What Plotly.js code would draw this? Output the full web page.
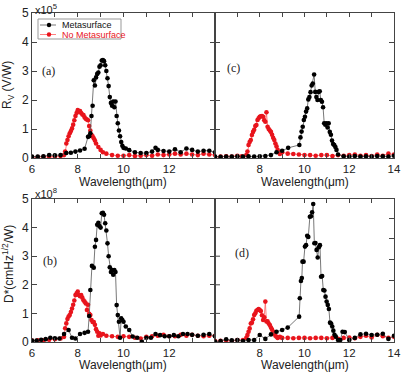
<!DOCTYPE html>
<html><head><meta charset="utf-8">
<script src="https://cdn.plot.ly/plotly-3.0.1.min.js"></script>
<style>html,body{margin:0;padding:0;background:#fff}#plot{width:401px;height:372px}</style>
</head><body><div id="plot"></div>
<script>
// ---- Data ----
// Panel (a): responsivity Rv (x10^5 V/W)
const wlA_meta = [6.0,6.25,6.5,6.75,7.0,7.25,7.5,7.7,7.9,8.1,8.3,8.45,8.5,8.55,8.6,8.65,8.7,8.75,8.8,8.85,8.9,8.95,9.0,9.05,9.1,9.15,9.2,9.25,9.3,9.35,9.4,9.45,9.5,9.55,9.6,9.65,9.7,9.75,9.8,9.85,9.9,9.95,10.0,10.1,10.25,10.5,10.75,11.0,11.25,11.4,11.5,11.75,12.0,12.25,12.5,12.75,13.0,13.25,13.5,13.75,14.0];
const rvA_meta = [0.05,0.05,0.06,0.1,0.09,0.1,0.17,0.18,0.22,0.26,0.32,0.73,0.75,0.85,1.45,1.8,2.68,2.5,2.78,2.9,2.95,3.15,3.2,3.36,3.38,3.34,3.2,3.0,2.75,2.48,2.1,1.9,1.8,1.95,1.75,1.95,1.45,1.2,0.95,0.75,0.55,0.42,0.35,0.33,0.27,0.2,0.17,0.17,0.22,0.35,0.28,0.24,0.22,0.3,0.2,0.33,0.28,0.22,0.25,0.25,0.2];
const wlA_no = [6.0,6.25,6.5,6.75,7.0,7.25,7.4,7.45,7.5,7.55,7.6,7.65,7.7,7.75,7.8,7.85,7.9,7.95,8.0,8.05,8.1,8.15,8.2,8.25,8.3,8.35,8.4,8.45,8.5,8.55,8.6,8.65,8.7,8.75,8.8,8.9,9.0,9.1,9.25,9.5,9.75,10.0,10.25,10.5,10.75,11.0,11.25,11.5,11.75,12.0,12.25,12.5,12.75,13.0,13.25,13.5,13.75,14.0];
const rvA_no = [0.03,0.03,0.04,0.05,0.05,0.07,0.1,0.22,0.5,0.62,0.75,0.85,0.93,1.02,1.15,1.3,1.45,1.55,1.65,1.6,1.62,1.55,1.5,1.48,1.4,1.35,1.33,1.3,1.1,0.95,0.8,0.75,0.68,0.6,0.5,0.38,0.28,0.2,0.15,0.1,0.08,0.08,0.1,0.07,0.08,0.1,0.08,0.12,0.1,0.12,0.15,0.12,0.15,0.12,0.1,0.15,0.12,0.1];

// Panel (c)
const wlC_meta = [6.0,6.25,6.5,6.75,7.0,7.25,7.5,7.75,8.0,8.25,8.5,8.75,9.0,9.27,9.77,9.82,9.87,9.92,9.97,10.02,10.07,10.12,10.17,10.22,10.27,10.32,10.37,10.43,10.48,10.53,10.58,10.63,10.68,10.73,10.78,10.83,10.88,10.93,10.98,11.03,11.08,11.13,11.18,11.23,11.28,11.33,11.38,11.43,11.5,11.75,12.0,12.25,12.5,12.75,13.0,13.25,13.5,13.75,14.0];
const rvC_meta = [0.05,0.04,0.05,0.05,0.06,0.05,0.06,0.05,0.06,0.07,0.1,0.2,0.25,0.35,0.45,0.71,0.91,1.08,1.31,1.42,1.6,1.71,2.02,2.1,2.27,2.5,2.57,2.88,2.28,2.1,2.0,2.28,2.3,2.0,1.94,1.75,1.2,1.15,1.2,1.05,1.2,0.9,0.8,0.6,0.48,0.45,0.38,0.28,0.12,0.06,0.05,0.07,0.05,0.06,0.05,0.07,0.06,0.05,0.08];
const wlC_no = [6.0,6.25,6.5,6.75,7.0,7.2,7.4,7.45,7.5,7.55,7.6,7.65,7.7,7.75,7.8,7.85,7.9,7.95,8.0,8.05,8.1,8.15,8.2,8.25,8.3,8.35,8.4,8.45,8.5,8.55,8.6,8.65,8.7,8.75,8.8,8.85,8.9,9.0,9.25,9.5,9.75,10.0,10.25,10.5,10.75,11.0,11.25,11.5,11.75,12.0,12.25,12.5,12.75,13.0,13.25,13.5,13.75,14.0];
const rvC_no = [0.04,0.05,0.06,0.05,0.08,0.06,0.1,0.22,0.45,0.55,0.62,0.79,0.9,0.97,1.1,1.14,1.31,1.37,1.42,1.44,1.45,1.42,1.3,1.25,1.58,1.08,1.0,0.95,0.9,0.8,0.7,0.62,0.5,0.4,0.28,0.2,0.14,0.2,0.15,0.14,0.12,0.1,0.1,0.08,0.1,0.1,0.07,0.1,0.08,0.1,0.12,0.08,0.1,0.07,0.12,0.08,0.15,0.12];

// Panel (b): detectivity D* (x10^8 cmHz^1/2/W)
const wlB_meta = [6.0,6.2,6.4,6.6,6.8,7.0,7.2,7.4,7.6,7.75,7.9,8.1,8.3,8.45,8.5,8.55,8.62,8.7,8.75,8.8,8.85,8.9,8.95,9.0,9.05,9.1,9.15,9.2,9.25,9.3,9.35,9.4,9.45,9.5,9.55,9.6,9.65,9.7,9.75,9.8,9.85,9.9,9.95,10.0,10.1,10.25,10.4,10.6,10.8,11.0,11.2,11.4,11.6,11.8,12.0,12.2,12.4,12.6,12.8,13.0,13.25,13.5,13.75,14.0];
const dB_meta = [0.05,0.05,0.08,0.1,0.15,0.13,0.12,0.28,0.42,0.15,0.12,0.28,0.32,0.36,0.91,1.82,2.66,2.6,3.33,3.57,4.1,4.17,4.05,4.0,4.5,4.52,4.45,4.15,3.9,3.45,3.0,2.61,2.45,2.52,2.35,2.52,2.45,1.29,0.94,0.71,0.15,0.83,0.77,0.71,0.54,0.42,0.19,0.15,0.01,0.15,0.15,0.28,0.24,0.2,0.2,0.24,0.2,0.28,0.28,0.25,0.22,0.25,0.28,0.2];
const wlB_no = [6.0,6.25,6.5,6.75,7.0,7.25,7.4,7.45,7.5,7.55,7.6,7.65,7.7,7.75,7.8,7.85,7.9,7.95,8.0,8.05,8.1,8.15,8.2,8.25,8.3,8.35,8.4,8.45,8.5,8.55,8.6,8.65,8.7,8.75,8.8,8.85,8.9,8.95,9.0,9.1,9.25,9.5,9.75,10.0,10.25,10.5,10.75,11.0,11.25,11.5,11.75,12.0,12.25,12.5,12.75,13.0,13.25,13.5,13.75,14.0];
const dB_no = [0.05,0.06,0.06,0.08,0.1,0.12,0.18,0.48,0.65,0.8,0.89,0.94,1.05,1.17,1.3,1.45,1.64,1.7,1.76,1.64,1.6,1.64,1.55,1.46,1.41,1.35,1.12,1.3,0.99,0.94,0.77,0.7,0.7,0.6,0.45,0.36,0.22,0.3,0.23,0.28,0.22,0.2,0.18,0.2,0.18,0.15,0.12,0.18,0.2,0.22,0.25,0.2,0.2,0.25,0.22,0.25,0.22,0.2,0.22,0.22];

// Panel (d): own axis scale 0 - 6.94
const wlD_meta = [6.0,6.25,6.5,6.75,7.0,7.25,7.5,7.75,8.0,8.25,8.5,8.75,9.0,9.25,9.76,9.79,9.84,9.88,9.91,9.96,10.02,10.07,10.12,10.17,10.24,10.29,10.34,10.39,10.44,10.49,10.54,10.59,10.64,10.69,10.74,10.79,10.84,10.89,10.94,10.99,11.04,11.09,11.14,11.19,11.24,11.29,11.34,11.4,11.5,11.6,11.7,11.8,12.0,12.25,12.5,12.75,13.0,13.25,13.5,13.75,14.0];
const dD_meta = [0.02,0.05,0.13,0.08,0.1,0.05,0.1,0.1,0.34,0.15,0.37,0.5,0.58,0.7,1.23,2.12,2.96,3.1,3.9,3.9,4.63,4.7,5.16,5.1,6.08,6.1,6.3,6.7,4.79,4.8,4.47,4.1,4.6,4.7,3.17,3.2,2.52,2.5,2.2,1.96,1.8,1.6,0.94,0.9,0.75,0.55,0.35,0.26,0.1,0.1,0.5,0.48,0.1,0.2,0.37,0.4,0.34,0.35,0.4,0.15,0.3];
const wlD_no = [6.0,6.25,6.5,6.75,7.0,7.25,7.4,7.45,7.5,7.55,7.6,7.65,7.7,7.75,7.8,7.85,7.9,7.95,8.0,8.05,8.1,8.15,8.2,8.25,8.3,8.35,8.4,8.45,8.5,8.55,8.6,8.65,8.7,8.75,8.8,8.9,9.0,9.25,9.5,9.75,10.0,10.25,10.5,10.75,11.0,11.25,11.5,11.75,12.0,12.25,12.5,12.75,13.0,13.25,13.5,13.75,14.0];
const dD_no = [0.05,0.06,0.08,0.05,0.1,0.1,0.2,0.34,0.5,0.66,0.9,0.94,1.1,1.31,1.39,1.52,1.55,1.6,1.55,1.5,1.3,1.07,1.2,1.96,1.0,1.0,0.9,0.82,0.7,0.6,0.5,0.39,0.3,0.25,0.2,0.25,0.2,0.2,0.18,0.2,0.2,0.18,0.2,0.2,0.18,0.2,0.15,0.2,0.22,0.18,0.25,0.3,0.22,0.35,0.28,0.2,0.25];

const xLabelsLeft = [6, 8, 10, 12];
const xLabelsRight = [8, 10, 12, 14];
const yLabels = [0, 1, 2, 3, 4, 5];
const seriesNames = ['Metasurface', 'No Metasurface'];

// ---- Layout helpers (pixel -> paper, plot area 32..394 x 13..342) ----
const W = 401, H = 372;
const M = {l: 32, r: 7, t: 13, b: 30};
const PW = W - M.l - M.r, PH = H - M.t - M.b;
const px = x => (x - M.l) / PW;
const py = y => (H - M.b - y) / PH;
const FONT = 'Liberation Sans, Arial, sans-serif';
const AX = '#444';
const BLK = '#000', BLK_LINE = '#555', RED = '#e8141c', RED_LINE = '#ff6060';

function mk(x, y, xa, ya, isMeta) {
  return {
    x: x, y: y, xaxis: xa, yaxis: ya, type: 'scatter', mode: 'lines+markers',
    name: isMeta ? seriesNames[0] : seriesNames[1], showlegend: false,
    line: {color: isMeta ? BLK_LINE : RED_LINE, width: 0.8},
    marker: {color: isMeta ? BLK : RED, size: 4.6}
  };
}

const data = [
  mk(wlA_no, rvA_no, 'x', 'y', false),
  mk(wlA_meta, rvA_meta, 'x', 'y', true),
  mk(wlC_no, rvC_no, 'x2', 'y2', false),
  mk(wlC_meta, rvC_meta, 'x2', 'y2', true),
  mk(wlB_no, dB_no, 'x3', 'y3', false),
  mk(wlB_meta, dB_meta, 'x3', 'y3', true),
  mk(wlD_no, dD_no, 'x4', 'y4', false),
  mk(wlD_meta, dD_meta, 'x4', 'y4', true)
];

function xax(dom, anchor, labels) {
  return {domain: dom, anchor: anchor, range: [6, 14], tickmode: 'array', tickvals: labels,
    ticktext: labels.map(String),
    ticks: 'inside', ticklen: 4, tickcolor: AX, showline: true, mirror: 'ticks', linecolor: AX, linewidth: 1,
    minor: {dtick: 1, tick0: 6, ticks: 'inside', ticklen: 4, tickcolor: AX, showgrid: false},
    showgrid: false, zeroline: false, tickfont: {family: FONT, size: 11.5, color: '#222'}, automargin: false};
}
function yax(dom, anchor, showLabels, range, vals) {
  return {domain: dom, anchor: anchor, range: range || [0, 5], tickmode: 'array', tickvals: vals || yLabels,
    ticktext: (vals || yLabels).map(String),
    ticks: 'inside', ticklen: 5, tickcolor: AX, showline: true, mirror: 'ticks', linecolor: AX, linewidth: 1,
    showgrid: false, zeroline: false, showticklabels: showLabels,
    tickfont: {family: FONT, size: 12, color: '#222'}, automargin: false};
}

const xL = [px(32), px(215)], xR = [px(215), px(394)];
const yT = [py(158), py(13)], yB = [py(342), py(199)];

const y4 = yax(yB, 'x4', false, [0, 6.94], [0, 1, 2, 3, 4, 5, 6]);
y4.side = 'right'; y4.mirror = true;

// Legend drawn in pixel positions (box, line samples, markers)
const LG = {x0: 38, x1: 121, y0: 19, y1: 39, r1: 25, r2: 34.5, lx0: 40, lx1: 56, mx: 49, tx: 60};
const shapes = [
  {type: 'rect', xref: 'paper', yref: 'paper', x0: px(LG.x0), x1: px(LG.x1), y0: py(LG.y1), y1: py(LG.y0),
    line: {color: '#999', width: 1}, fillcolor: '#fff', layer: 'above'},
  {type: 'line', xref: 'paper', yref: 'paper', x0: px(LG.lx0), x1: px(LG.lx1), y0: py(LG.r1), y1: py(LG.r1),
    line: {color: BLK_LINE, width: 0.8}, layer: 'above'},
  {type: 'line', xref: 'paper', yref: 'paper', x0: px(LG.lx0), x1: px(LG.lx1), y0: py(LG.r2), y1: py(LG.r2),
    line: {color: RED_LINE, width: 0.8}, layer: 'above'},
  {type: 'circle', xref: 'paper', yref: 'paper', x0: px(LG.mx - 2.2), x1: px(LG.mx + 2.2), y0: py(LG.r1 + 2.2), y1: py(LG.r1 - 2.2),
    line: {width: 0}, fillcolor: BLK, layer: 'above'},
  {type: 'circle', xref: 'paper', yref: 'paper', x0: px(LG.mx - 2.2), x1: px(LG.mx + 2.2), y0: py(LG.r2 + 2.2), y1: py(LG.r2 - 2.2),
    line: {width: 0}, fillcolor: RED, layer: 'above'}
];
// (b)'s scale ticks reaching into panel (d) across the shared border
[1, 2, 3, 4].forEach(v => shapes.push({type: 'line', xref: 'paper', yref: 'y3', x0: px(215), x1: px(220),
  y0: v, y1: v, line: {color: AX, width: 1}, layer: 'above'}));

const ann = [];
function addAnn(list, common) { list.forEach(a => ann.push(Object.assign({xref: 'paper', yref: 'paper', showarrow: false}, common, a))); }
addAnn([
  {text: '(a)', x: px(40), y: py(71)},
  {text: '(c)', x: px(225), y: py(68)},
  {text: '(b)', x: px(41), y: py(261)},
  {text: '(d)', x: px(233), y: py(253)}
], {xanchor: 'left', yanchor: 'middle', font: {family: 'Liberation Serif, Times New Roman, serif', size: 12, color: '#222'}});
addAnn([
  {text: 'R<sub>V</sub> (V/W)', x: px(8), y: py(85), textangle: -90},
  {text: 'D*(cmHz<sup>1/2</sup>/W)', x: px(8), y: py(264), textangle: -90},
  {text: 'Wavelength(\u03bcm)', x: px(123), y: py(182)},
  {text: 'Wavelength(\u03bcm)', x: px(305), y: py(182)},
  {text: 'Wavelength(\u03bcm)', x: px(123), y: py(365)},
  {text: 'Wavelength(\u03bcm)', x: px(305), y: py(365)}
], {xanchor: 'center', yanchor: 'middle', font: {family: FONT, size: 12, color: '#222'}});
addAnn([
  {text: 'x10<sup>5</sup>', x: px(33), y: py(0)},
  {text: 'x10<sup>8</sup>', x: px(33), y: py(184)}
], {xanchor: 'left', yanchor: 'top', font: {family: FONT, size: 11, color: '#222'}});
addAnn([
  {text: seriesNames[0], x: px(LG.tx), y: py(LG.r1), font: {family: FONT, size: 9, color: '#111'}},
  {text: seriesNames[1], x: px(LG.tx), y: py(LG.r2), font: {family: FONT, size: 9, color: RED}}
], {xanchor: 'left', yanchor: 'middle'});

const layout = {
  width: W, height: H, margin: M,
  paper_bgcolor: '#fff', plot_bgcolor: '#fff', showlegend: false,
  xaxis: xax(xL, 'y', xLabelsLeft),
  yaxis: yax(yT, 'x', true),
  xaxis2: xax(xR, 'y2', xLabelsRight),
  yaxis2: yax(yT, 'x2', false),
  xaxis3: xax(xL, 'y3', xLabelsLeft),
  yaxis3: yax(yB, 'x3', true),
  xaxis4: xax(xR, 'y4', xLabelsRight),
  yaxis4: y4,
  shapes: shapes,
  annotations: ann
};

Plotly.newPlot('plot', data, layout, {displayModeBar: false, staticPlot: true});
</script>
</body></html>
